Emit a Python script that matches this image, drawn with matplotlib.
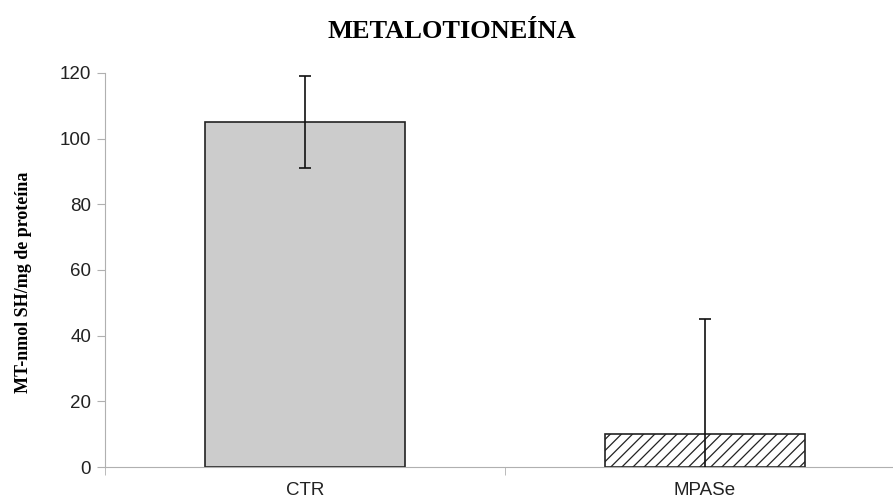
import matplotlib
matplotlib.use('Agg')
import matplotlib.pyplot as plt
import numpy as np

# data
grupos = ['CTR', 'MPASe']
valores = [105, 10]
erros = [14, 35]

plt.rcParams['hatch.linewidth'] = 0.9

fig = plt.figure(figsize=(8.93, 5.0), dpi=100)
ax = fig.add_axes([105/893, 33/500, 800/893, 394/500])

x_pos = np.arange(len(grupos))
barras = ax.bar(x_pos, valores, width=0.5, color=['#cccccc', 'white'],
                edgecolor='#222222', linewidth=1.2, zorder=2)
barras[1].set_hatch('///')
ax.errorbar(x_pos, valores, yerr=erros, fmt='none', ecolor='#111111',
            elinewidth=1.2, capsize=4.5, capthick=1.2, zorder=3)

ax.set_xlim(-0.5, 1.5)
ax.set_ylim(0, 120)
ax.set_yticks(range(0, 121, 20))
ax.set_xticks(x_pos)
ax.set_xticklabels(grupos)
ax.set_xticks([-0.5, 0.5, 1.5], minor=True)
ax.tick_params(axis='x', which='major', length=0, pad=11)
ax.tick_params(axis='x', which='minor', length=6, color='#b0b0b0')
ax.tick_params(axis='y', length=6, color='#b0b0b0', pad=4)
for lab in ax.get_xticklabels() + ax.get_yticklabels():
    lab.set_family('Liberation Sans')
    lab.set_fontsize(13.5)
    lab.set_color('#222222')

for s in ['top', 'right']:
    ax.spines[s].set_visible(False)
ax.spines['left'].set_color('#b0b0b0')
ax.spines['bottom'].set_color('#b0b0b0')

fig.text(0.506, 0.938, 'METALOTIONEÍNA', ha='center', va='center',
         family='Liberation Serif', fontweight='bold', fontsize=19)
fig.text(0.026, 0.436, 'MT-nmol SH/mg de proteína', rotation=90,
         ha='center', va='center', family='Liberation Serif',
         fontweight='bold', fontsize=13)

plt.savefig('out.png', dpi=100)
